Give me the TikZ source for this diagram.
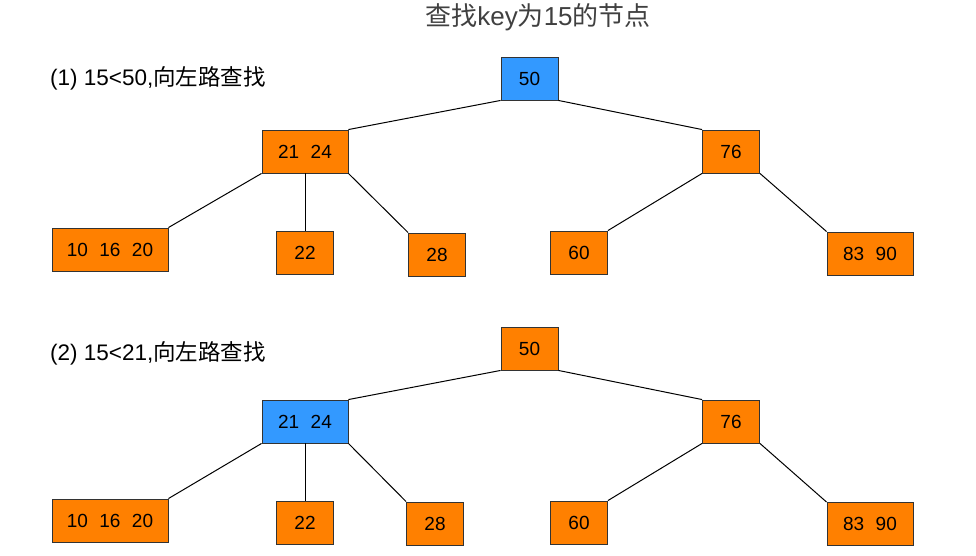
\documentclass[tikz,border=0pt]{standalone}
\usepackage{fontspec}
\setmainfont{Liberation Sans}
\newfontfamily\cjk{Noto Sans CJK SC}
\usetikzlibrary{calc, positioning}
\definecolor{keyorange}{HTML}{FF8000}
\definecolor{keyblue}{HTML}{3399FF}
\tikzset{
	keynode/.style={
		rectangle,
		draw=black!80, line width=0.9pt,
		fill=keyorange,
		inner sep=0pt,
		minimum height=43pt,
		text=black,
		font=\fontsize{19}{21}\selectfont
	},
	found/.style={fill=keyblue},
	one/.style={keynode, minimum width=57pt},
	two/.style={keynode, minimum width=86pt},
	three/.style={keynode, minimum width=116pt},
	edge/.style={line width=1pt, black},
	caption/.style={anchor=west, inner sep=0pt, font=\fontsize{22.5}{25}\selectfont}
}
\newcommand{\gap}{\hspace{0.6em}}

\begin{document}
\begin{tikzpicture}[x=1pt,y=-1pt]
	\useasboundingbox (0,0) rectangle (976,556);

	\node (title) at (538,17) [inner sep=0pt, text=black!75, font=\fontsize{26}{29}\selectfont]
		{{\cjk 查找}key{\cjk 为}15{\cjk 的节点}};

	% step 1
	\node[caption] (cap1) at (50,78) {(1) 15<50,{\cjk 向左路查找}};
	\node[one, found] (rootA)  at (529.5,78.5) {50};
	\node[two]        (leftA)  at (305,151.5)  {21\gap24};
	\node[one]        (rightA) at (731,151.5)  {76};
	\node[three]      (llA)    at (110,249.5)  {10\gap16\gap20};
	\node[one]        (lmA)    at (305,252.5)  {22};
	\node[one]        (lrA)    at (437,254.5)  {28};
	\node[one]        (rlA)    at (579,252.5)  {60};
	\node[two]        (rrA)    at (870,253.5)  {83\gap90};

	\draw[edge] (rootA.south west) -- (leftA.north east);
	\draw[edge] (rootA.south east) -- (rightA.north west);
	\draw[edge] (leftA.south west) -- (llA.north east);
	\draw[edge] (leftA.south)      -- (lmA.north);
	\draw[edge] (leftA.south east) -- (lrA.north west);
	\draw[edge] (rightA.south west) -- (rlA.north east);
	\draw[edge] (rightA.south east) -- (rrA.north west);

	% step 2
	\node[caption] (cap2) at (50,353) {(2) 15<21,{\cjk 向左路查找}};
	\node[one]        (rootB)  at (529.5,348.5) {50};
	\node[two, found] (leftB)  at (305,421.5)   {21\gap24};
	\node[one]        (rightB) at (731,421.5)   {76};
	\node[three]      (llB)    at (110,520.5)   {10\gap16\gap20};
	\node[one]        (lmB)    at (305,522.5)   {22};
	\node[one]        (lrB)    at (435,523.5)   {28};
	\node[one]        (rlB)    at (579,522.5)   {60};
	\node[two]        (rrB)    at (870,524)     {83\gap90};

	\draw[edge] (rootB.south west) -- (leftB.north east);
	\draw[edge] (rootB.south east) -- (rightB.north west);
	\draw[edge] (leftB.south west) -- (llB.north east);
	\draw[edge] (leftB.south)      -- (lmB.north);
	\draw[edge] (leftB.south east) -- (lrB.north west);
	\draw[edge] (rightB.south west) -- (rlB.north east);
	\draw[edge] (rightB.south east) -- (rrB.north west);
\end{tikzpicture}
\end{document}
